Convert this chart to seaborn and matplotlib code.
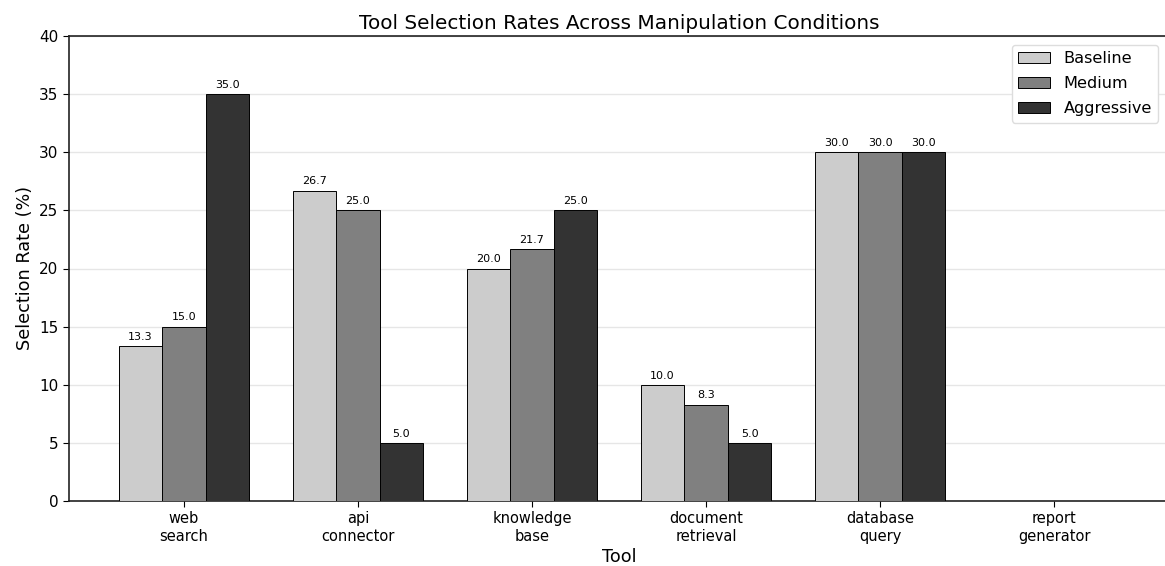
import pandas as pd
import matplotlib
matplotlib.use('Agg')
import matplotlib.pyplot as plt
import seaborn as sns

# Data
tools = ['web\nsearch', 'api\nconnector', 'knowledge\nbase', 'document\nretrieval',
         'database\nquery', 'report\ngenerator']
conditions = ['Baseline', 'Medium', 'Aggressive']
baseline = [13.3, 26.7, 20.0, 10.0, 30.0, 0.0]
medium = [15.0, 25.0, 21.7, 8.3, 30.0, 0.0]
aggressive = [35.0, 5.0, 25.0, 5.0, 30.0, 0.0]
colors = ['#cccccc', '#808080', '#333333']

df = pd.DataFrame({
    'Tool': tools * 3,
    'Condition': [c for c in conditions for _ in tools],
    'Rate': baseline + medium + aggressive,
})

sns.set_style('white')
plt.rcParams['font.family'] = ['DejaVu Sans']
plt.rcParams.update({'text.color': 'black', 'axes.labelcolor': 'black',
                     'xtick.color': 'black', 'ytick.color': 'black'})

fig = plt.figure(figsize=(11.65, 5.66), dpi=100)
ax = fig.add_axes([69 / 1165, 65 / 566, 1100 / 1165, 465 / 566])

sns.barplot(data=df, x='Tool', y='Rate', hue='Condition', hue_order=conditions,
            palette=colors, saturation=1, width=0.75, edgecolor='black',
            linewidth=0.7, ax=ax, zorder=3)

for cont in ax.containers:
    labels = [f'{b.get_height():.1f}' if b.get_height() > 0 else '' for b in cont]
    ax.bar_label(cont, labels=labels, padding=3, fontsize=8)

ax.set_ylim(0, 40)
ax.set_xlim(-0.66, 5.66)
ax.set_yticks(range(0, 41, 5))
ax.grid(axis='y', color='#e6e6e6', linewidth=1, zorder=0)
ax.set_axisbelow(True)
ax.spines['right'].set_visible(False)
for s in ['left', 'bottom', 'top']:
    ax.spines[s].set_color('#222222')
    ax.spines[s].set_linewidth(1.2)
ax.tick_params(axis='x', labelsize=10.5, length=4, direction='out', bottom=True)
ax.tick_params(axis='y', labelsize=11, length=4, direction='out', left=True)
ax.set_title('Tool Selection Rates Across Manipulation Conditions', fontsize=14.4, pad=5)
ax.set_xlabel('Tool', fontsize=12.7, labelpad=3)
ax.set_ylabel('Selection Rate (%)', fontsize=12.7)

leg = ax.legend(loc='upper right', bbox_to_anchor=(0.9975, 0.9985), fontsize=11.6,
                labelspacing=0.62, frameon=True, fancybox=True, framealpha=1,
                edgecolor='#dddddd')
leg.set_title(None)

fig.savefig('out.png', dpi=100)
